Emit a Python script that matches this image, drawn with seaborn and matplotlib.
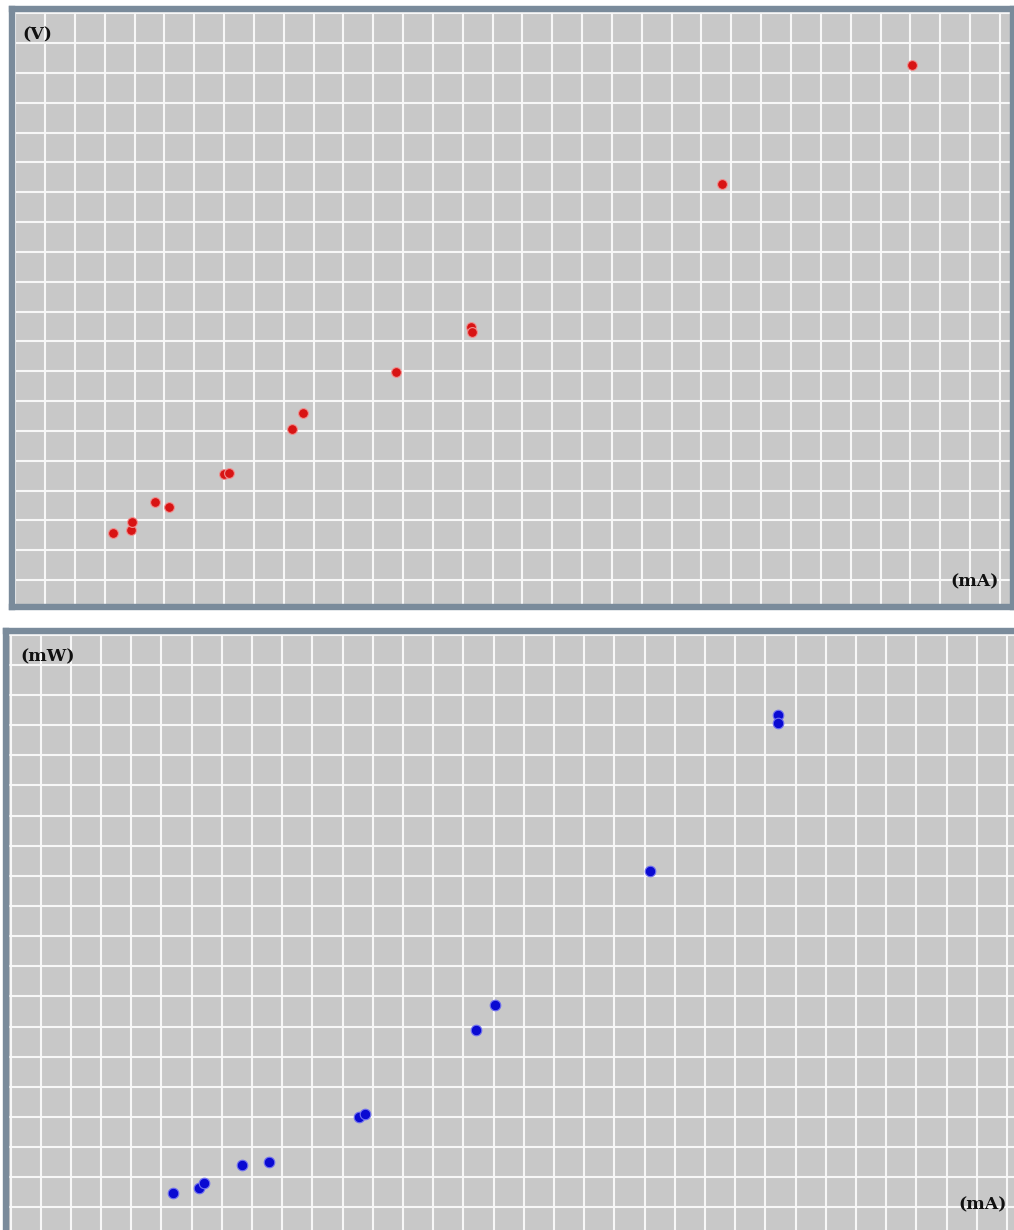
import matplotlib
matplotlib.use("Agg")
import matplotlib.pyplot as plt
from matplotlib.ticker import MultipleLocator
import numpy as np
import pandas as pd
import seaborn as sns

# Voltage vs current (grid-cell units: 1 cell per gridline)
current_v = [3.29, 3.87, 3.91, 4.68, 5.17, 7.00, 7.17, 9.29, 9.66, 12.76, 15.28, 15.31, 23.69, 30.06]
voltage = [1.59, 1.68, 1.94, 2.62, 2.46, 3.55, 3.59, 5.06, 5.59, 6.97, 8.48, 8.31, 13.28, 17.26]

# Power vs current
current_p = [5.39, 6.24, 6.41, 7.66, 8.57, 11.55, 11.75, 15.41, 16.04, 21.18, 25.40, 25.40]
power = [0.49, 0.63, 0.80, 1.39, 1.49, 3.01, 3.10, 5.88, 6.71, 11.16, 16.34, 16.06]

df_v = pd.DataFrame({"mA": current_v, "V": voltage})
df_p = pd.DataFrame({"mA": current_p, "mW": power})

W, H = 1014, 1230
sns.set_style("white")
fig = plt.figure(figsize=(W / 100, H / 100), dpi=100)

def px_axes(left, top, right, bottom):
    return fig.add_axes([left / W, 1 - bottom / H, (right - left) / W, (bottom - top) / H])

BG = "#c8c8c8"
FRAME = "#7a8b9b"

def style_panel(ax, xlim, ylim):
    ax.set_facecolor(BG)
    ax.set_xlim(*xlim)
    ax.set_ylim(*ylim)
    ax.xaxis.set_major_locator(MultipleLocator(1))
    ax.yaxis.set_major_locator(MultipleLocator(1))
    ax.grid(True, color="#f7f7f7", linewidth=1.5)
    ax.set_axisbelow(True)
    ax.tick_params(left=False, bottom=False, labelleft=False, labelbottom=False)
    ax.set_xlabel("")
    ax.set_ylabel("")
    for s in ax.spines.values():
        s.set_visible(True)
        s.set_color(FRAME)
        s.set_linewidth(4.6)

# Top panel: V vs mA
ax1 = px_axes(11.5, 9.5, 1013, 607)
sns.scatterplot(data=df_v, x="mA", y="V", ax=ax1, color="#d81414", s=50,
                edgecolor="#f09090", linewidth=0.8, zorder=3, clip_on=True)
style_panel(ax1, ((11.5 - 15.16) / 29.84, (1013 - 15.16) / 29.84),
            ((580 - 607) / 29.83, (580 - 9.5) / 29.83))

# Bottom panel: mW vs mA
ax2 = px_axes(5.5, 631, 1030, 1240)
sns.scatterplot(data=df_p, x="mA", y="mW", ax=ax2, color="#0a0ad2", s=58,
                edgecolor="#7070f0", linewidth=0.8, zorder=3, clip_on=True)
style_panel(ax2, ((5.5 - 10.5) / 30.2, (1030 - 10.5) / 30.2),
            ((1207.3 - 1240) / 30.13, (1207.3 - 631) / 30.13))

lab = dict(family="DejaVu Serif", fontweight="bold", fontsize=12.5, color="#111111", va="center")
fig.text(22 / W, 1 - 35 / H, "(V)", ha="left", **lab)
fig.text(999 / W, 1 - 582 / H, "(mA)", ha="right", **lab)
fig.text(20 / W, 1 - 657 / H, "(mW)", ha="left", **lab)
fig.text(1007 / W, 1 - 1205 / H, "(mA)", ha="right", **lab)

fig.savefig("out.png", dpi=100, facecolor="white")
